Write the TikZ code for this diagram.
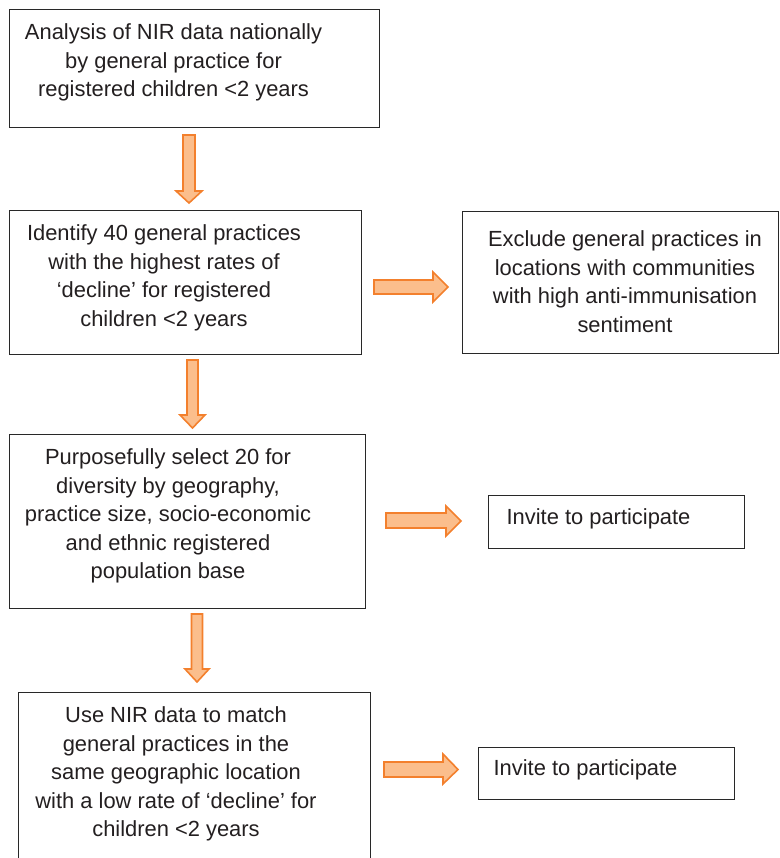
\documentclass[tikz,border=0pt]{standalone}
\usepackage{fontspec}
\setmainfont{Liberation Sans}
\definecolor{boxline}{RGB}{40,40,40}
\definecolor{txt}{RGB}{35,31,32}
\definecolor{arrfill}{RGB}{251,190,140}
\definecolor{arrline}{RGB}{243,128,45}
\tikzset{
  flowbox/.style={draw=boxline, line width=1pt, rectangle, anchor=north west, inner sep=0pt, fill=white},
  openbox/.style={draw=none, rectangle, anchor=north west, inner sep=0pt},
  boxtext/.style={align=center, inner sep=0pt, text=txt, font=\fontsize{21.9}{28.5}\selectfont},
  blockarrow/.style={draw=arrline, fill=arrfill, line width=1.6pt, line join=miter}
}
\begin{document}
\begin{tikzpicture}[x=1pt,y=-1pt]
\useasboundingbox (0,0) rectangle (779,858);
% boxes
\node[flowbox, minimum width=370pt, minimum height=118pt] (b1) at (8.5,9.5) {};
\node[flowbox, minimum width=352pt, minimum height=144pt] (b2) at (9,210) {};
\node[flowbox, minimum width=316pt, minimum height=142pt] (b3) at (462,211) {};
\node[flowbox, minimum width=356pt, minimum height=174pt] (b4) at (9,434) {};
\node[flowbox, minimum width=256pt, minimum height=53pt] (b5) at (488,495) {};
\node[openbox, minimum width=352pt, minimum height=170pt] (b6) at (18.5,692) {};
\draw[boxline, line width=1pt] (b6.south west) -- (b6.north west) -- (b6.north east) -- (b6.south east);
\node[flowbox, minimum width=256pt, minimum height=52pt] (b7) at (478,747) {};
% texts
\node[boxtext] (t1) at (173.5,62.5) {Analysis of NIR data nationally\\by general practice for\\registered children <2 years};
\node[boxtext] (t2) at (164,278) {Identify 40 general practices\\with the highest rates of\\‘decline’ for registered\\children <2 years};
\node[boxtext] (t3) at (625,281.5) {Exclude general practices in\\locations with communities\\with high anti-immunisation\\sentiment};
\node[boxtext] (t4) at (168,516) {Purposefully select 20 for\\diversity by geography,\\practice size, socio-economic\\and ethnic registered\\population base};
\node[boxtext, anchor=base] (t5) at (598.5,524) {Invite to participate};
\node[boxtext] (t6) at (176,774) {Use NIR data to match\\general practices in the\\same geographic location\\with a low rate of ‘decline’ for\\children <2 years};
\node[boxtext, anchor=base] (t7) at (585.5,775) {Invite to participate};
% down arrows
\draw[blockarrow] (183,135) -- (195,135) -- (195,191) -- (202,191) -- (189,203) -- (176,191) -- (183,191) -- cycle;
\draw[blockarrow] (187,360) -- (198,360) -- (198,415) -- (205,415) -- (192.5,428) -- (180,415) -- (187,415) -- cycle;
\draw[blockarrow] (191.5,614) -- (202.5,614) -- (202.5,669) -- (209,669) -- (197,682) -- (185,669) -- (191.5,669) -- cycle;
% right arrows
\draw[blockarrow] (374,280) -- (433,280) -- (433,272) -- (448,287) -- (433,302) -- (433,294) -- (374,294) -- cycle;
\draw[blockarrow] (386,513) -- (446,513) -- (446,506) -- (461,521) -- (446,536) -- (446,528) -- (386,528) -- cycle;
\draw[blockarrow] (384,762) -- (443,762) -- (443,754) -- (458,769.5) -- (443,784) -- (443,777) -- (384,777) -- cycle;
\end{tikzpicture}
\end{document}
